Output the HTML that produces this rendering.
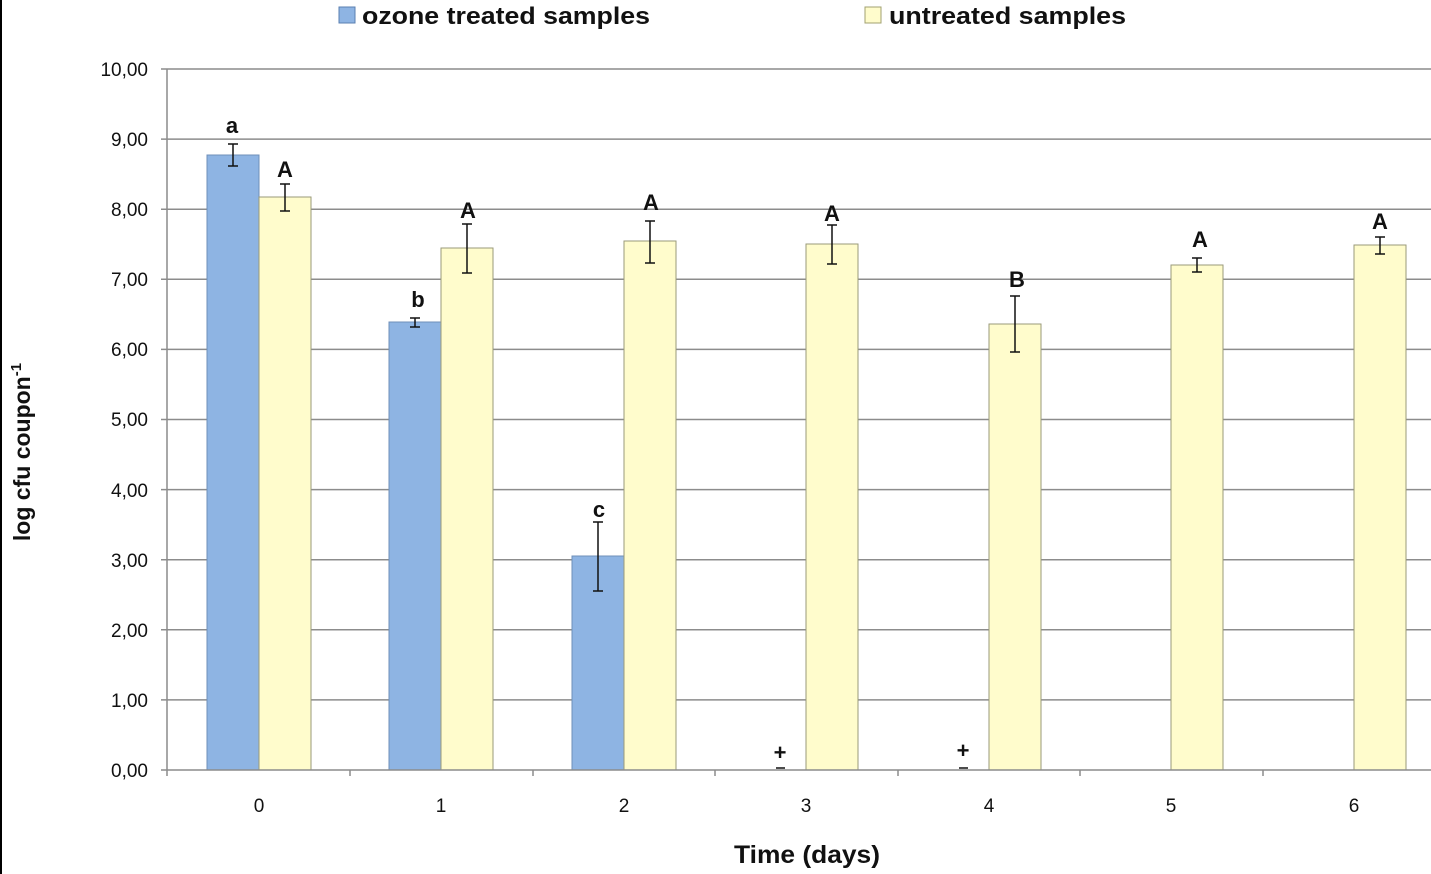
<!DOCTYPE html>
<html><head><meta charset="utf-8"><style>
html,body{margin:0;padding:0;background:#fff;}
svg{display:block;font-family:"Liberation Sans",sans-serif;}
</style></head><body>
<svg width="1431" height="874" viewBox="0 0 1431 874" xmlns="http://www.w3.org/2000/svg">
<rect x="0" y="0" width="2" height="874" fill="#000"/>
<rect x="339" y="7" width="16" height="16" fill="#8eb4e3" stroke="#5a7fb0" stroke-width="1"/>
<text x="362" y="24" font-size="24" font-weight="bold" fill="#111" textLength="288" lengthAdjust="spacingAndGlyphs">ozone treated samples</text>
<rect x="865" y="7" width="16" height="16" fill="#fffccc" stroke="#a0a070" stroke-width="1"/>
<text x="889" y="24" font-size="24" font-weight="bold" fill="#111" textLength="237" lengthAdjust="spacingAndGlyphs">untreated samples</text>
<g stroke="#8c8c8c" stroke-width="1.5">
<line x1="161" y1="69" x2="1431" y2="69"/>
<line x1="161" y1="139.1" x2="1431" y2="139.1"/>
<line x1="161" y1="209.2" x2="1431" y2="209.2"/>
<line x1="161" y1="279.3" x2="1431" y2="279.3"/>
<line x1="161" y1="349.4" x2="1431" y2="349.4"/>
<line x1="161" y1="419.5" x2="1431" y2="419.5"/>
<line x1="161" y1="489.6" x2="1431" y2="489.6"/>
<line x1="161" y1="559.7" x2="1431" y2="559.7"/>
<line x1="161" y1="629.8" x2="1431" y2="629.8"/>
<line x1="161" y1="699.9" x2="1431" y2="699.9"/>
</g>
<g font-size="19" fill="#111" text-anchor="end">
<text x="148" y="76">10,00</text><text x="148" y="146">9,00</text><text x="148" y="216">8,00</text>
<text x="148" y="286">7,00</text><text x="148" y="356">6,00</text><text x="148" y="426">5,00</text>
<text x="148" y="497">4,00</text><text x="148" y="567">3,00</text><text x="148" y="637">2,00</text>
<text x="148" y="707">1,00</text><text x="148" y="777">0,00</text>
</g>
<g fill="#8eb4e3" stroke="#6f8fb8" stroke-width="1">
<rect x="207" y="155" width="52" height="615"/>
<rect x="389" y="322" width="52" height="448"/>
<rect x="572" y="556" width="52" height="214"/>
</g>
<g fill="#fffccc" stroke="#9a9a7a" stroke-width="1">
<rect x="259" y="197" width="52" height="573"/>
<rect x="441" y="248" width="52" height="522"/>
<rect x="624" y="241" width="52" height="529"/>
<rect x="806" y="244" width="52" height="526"/>
<rect x="989" y="324" width="52" height="446"/>
<rect x="1171" y="265" width="52" height="505"/>
<rect x="1354" y="245" width="52" height="525"/>
</g>
<g stroke="#8c8c8c" stroke-width="1.5">
<line x1="167" y1="69" x2="167" y2="776"/>
<line x1="161" y1="770" x2="1431" y2="770"/>
<line x1="350" y1="770" x2="350" y2="776"/><line x1="533" y1="770" x2="533" y2="776"/>
<line x1="715" y1="770" x2="715" y2="776"/><line x1="898" y1="770" x2="898" y2="776"/>
<line x1="1080" y1="770" x2="1080" y2="776"/><line x1="1263" y1="770" x2="1263" y2="776"/>
</g>
<g stroke="#111" stroke-width="1.5">
<path d="M233 144V166M228 144H238M228 166H238"/>
<path d="M285 184V211M280 184H290M280 211H290"/>
<path d="M415 318V327M410 318H420M410 327H420"/>
<path d="M467 224V273M462 224H472M462 273H472"/>
<path d="M598 522V591M593 522H603M593 591H603"/>
<path d="M650 221V263M645 221H655M645 263H655"/>
<path d="M832 225V264M827 225H837M827 264H837"/>
<path d="M1015 296V352M1010 296H1020M1010 352H1020"/>
<path d="M1197 258V272M1192 258H1202M1192 272H1202"/>
<path d="M1380 237V254M1375 237H1385M1375 254H1385"/>
<path d="M776 768H785M959 768H968"/>
</g>
<g font-size="22" font-weight="bold" fill="#111" text-anchor="middle">
<text x="232" y="133">a</text><text x="285" y="177">A</text>
<text x="418" y="307">b</text><text x="468" y="218">A</text>
<text x="599" y="517">c</text><text x="651" y="210">A</text>
<text x="832" y="221">A</text><text x="1017" y="287">B</text>
<text x="1200" y="247">A</text><text x="1380" y="229">A</text>
<text x="780" y="760">+</text><text x="963" y="758">+</text>
</g>
<g font-size="19" fill="#111" text-anchor="middle">
<text x="259" y="812">0</text><text x="441" y="812">1</text><text x="624" y="812">2</text>
<text x="806" y="812">3</text><text x="989" y="812">4</text><text x="1171" y="812">5</text><text x="1354" y="812">6</text>
</g>
<text x="807" y="863" font-size="25" font-weight="bold" fill="#111" text-anchor="middle" textLength="146" lengthAdjust="spacingAndGlyphs">Time (days)</text>
<text transform="translate(30,452) rotate(-90)" font-size="23" font-weight="bold" fill="#111" text-anchor="middle">log cfu coupon<tspan font-size="15" dy="-9">-1</tspan></text>
</svg>
</body></html>
